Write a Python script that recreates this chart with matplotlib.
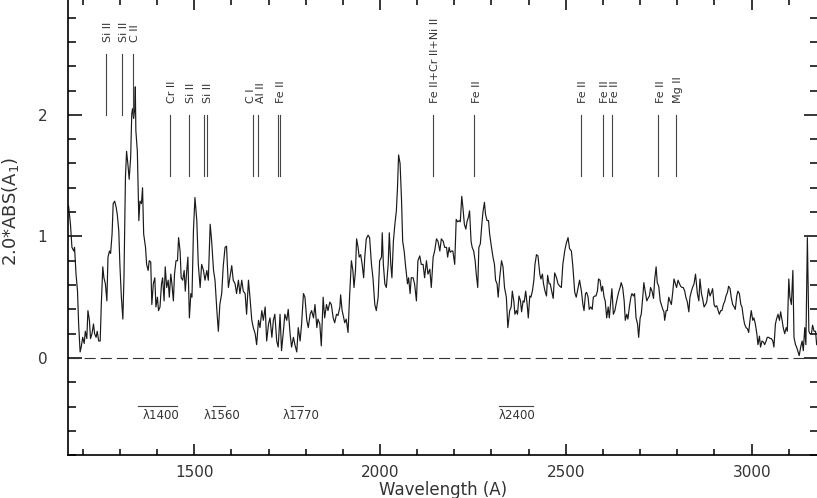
import numpy as np
import matplotlib
matplotlib.use("Agg")
from matplotlib import pyplot as plt
from matplotlib.ticker import MultipleLocator

# ---------- SPECTRUM (in segments) -------------------------------------------
wave_1 = [1162, 1167, 1171, 1176, 1178, 1182, 1186, 1189, 1193, 1196,
          1200, 1204, 1207, 1211, 1214, 1218, 1221, 1225, 1229, 1232,
          1236, 1239, 1243, 1247, 1250, 1254, 1257, 1261, 1265, 1268,
          1272, 1275, 1279, 1282, 1286, 1290, 1293, 1297, 1300, 1304,
          1308, 1311, 1315, 1318, 1322, 1325, 1329, 1332, 1334, 1337,
          1340, 1341.5, 1343, 1347, 1351, 1354, 1358, 1361, 1364, 1369,
          1372, 1376, 1379, 1383, 1386, 1390, 1394, 1397, 1401, 1404,
          1408, 1412, 1415, 1419, 1422, 1426, 1430, 1433, 1437, 1440,
          1444, 1447, 1451, 1455, 1458, 1462, 1465, 1469, 1473, 1476,
          1480, 1483, 1487, 1491, 1494]
flux_1 = [1.25, 1.10, 0.91, 0.88, 0.91, 0.69, 0.55, 0.28, 0.05, 0.09,
          0.17, 0.12, 0.22, 0.16, 0.39, 0.31, 0.16, 0.20, 0.28, 0.20,
          0.17, 0.22, 0.14, 0.14, 0.44, 0.75, 0.66, 0.61, 0.47, 0.83,
          0.88, 0.86, 1.02, 1.27, 1.29, 1.24, 1.18, 1.05, 0.77, 0.50,
          0.32, 0.66, 1.49, 1.70, 1.58, 1.47, 1.65, 2.01, 2.05, 1.97,
          2.05, 2.23, 1.87, 1.70, 1.13, 1.29, 1.27, 1.40, 1.02, 0.91,
          0.77, 0.72, 0.80, 0.79, 0.44, 0.61, 0.66, 0.42, 0.50, 0.39,
          0.42, 0.61, 0.66, 0.47, 0.75, 0.58, 0.64, 0.50, 0.69, 0.61,
          0.47, 0.69, 0.80, 0.80, 0.99, 0.88, 0.66, 0.64, 0.72, 0.55,
          0.72, 0.83, 0.33, 0.53, 0.50]

wave_2 = [1498, 1502, 1507, 1511, 1516, 1520, 1525, 1529, 1534, 1538,
          1543, 1547, 1552, 1556, 1561, 1565, 1569, 1574, 1578, 1583,
          1587, 1592, 1596, 1601, 1605, 1610, 1614, 1619, 1623, 1628,
          1632, 1637, 1641, 1646, 1650, 1655, 1659, 1664, 1668, 1673,
          1677, 1682, 1686, 1691, 1695, 1700, 1704, 1709, 1713, 1717,
          1722, 1726, 1731, 1735, 1740, 1744, 1749, 1753, 1758, 1762,
          1767, 1771, 1776, 1780, 1785, 1789, 1794, 1798, 1803, 1807,
          1812, 1816, 1821, 1825, 1830]
flux_2 = [1.05, 1.32, 1.13, 0.77, 0.58, 0.77, 0.72, 0.64, 0.72, 0.64,
          1.10, 0.96, 0.72, 0.64, 0.39, 0.22, 0.44, 0.53, 0.75, 0.91,
          0.92, 0.58, 0.66, 0.76, 0.64, 0.61, 0.53, 0.64, 0.53, 0.64,
          0.55, 0.53, 0.36, 0.64, 0.50, 0.31, 0.25, 0.20, 0.11, 0.31,
          0.25, 0.39, 0.31, 0.42, 0.14, 0.28, 0.33, 0.17, 0.31, 0.36,
          0.14, 0.09, 0.36, 0.06, 0.22, 0.36, 0.31, 0.40, 0.20, 0.09,
          0.17, 0.11, 0.05, 0.25, 0.14, 0.28, 0.53, 0.50, 0.31, 0.25,
          0.36, 0.39, 0.33, 0.44, 0.25]

wave_3 = [1833, 1838, 1842, 1847, 1851, 1856, 1860, 1865, 1869, 1874,
          1878, 1883, 1887, 1892, 1894, 1898, 1901, 1905, 1909, 1914,
          1918, 1923, 1927, 1930, 1934, 1937, 1941, 1944, 1948, 1952,
          1956, 1959, 1963, 1968, 1972, 1977, 1981, 1986, 1990, 1995,
          1999, 2004, 2006, 2009, 2013, 2017, 2022, 2025, 2029, 2032,
          2036, 2040, 2044, 2047, 2050, 2054, 2058, 2061, 2065, 2069,
          2074, 2077, 2081, 2084, 2089, 2093, 2098, 2102, 2107, 2111,
          2116, 2120, 2125, 2129, 2134, 2138, 2143, 2147, 2152, 2156,
          2161, 2165, 2170, 2174]
flux_3 = [0.32, 0.28, 0.10, 0.50, 0.33, 0.44, 0.39, 0.46, 0.44, 0.33,
          0.29, 0.36, 0.35, 0.42, 0.52, 0.39, 0.35, 0.29, 0.32, 0.21,
          0.50, 0.80, 0.72, 0.58, 0.72, 0.98, 0.91, 0.83, 0.85, 0.77,
          0.66, 0.83, 0.98, 1.01, 0.99, 0.77, 0.66, 0.44, 0.39, 0.50,
          0.80, 0.83, 1.03, 0.77, 0.61, 0.58, 0.77, 1.03, 0.77, 0.66,
          0.96, 1.10, 1.21, 1.40, 1.67, 1.60, 1.29, 0.96, 0.88, 0.75,
          0.61, 0.66, 0.53, 0.66, 0.66, 0.61, 0.47, 0.80, 0.84, 0.77,
          0.77, 0.66, 0.80, 0.69, 0.73, 0.58, 0.83, 0.88, 0.98, 0.96,
          0.88, 0.98, 0.96, 0.91]

wave_4 = [2179, 2182, 2186, 2189, 2193, 2196, 2201, 2205, 2209, 2213,
          2216, 2220, 2223, 2227, 2231, 2234, 2238, 2241, 2245, 2248,
          2252, 2256, 2259, 2263, 2266, 2270, 2274, 2277, 2281, 2284,
          2288, 2292, 2295, 2300, 2304, 2308, 2311, 2315, 2318, 2322,
          2327, 2331, 2335, 2340, 2344, 2349, 2353, 2356, 2360, 2363,
          2367, 2370, 2374, 2378, 2381, 2385, 2388, 2392, 2396, 2399,
          2403, 2406, 2410, 2414, 2417, 2421, 2425, 2430, 2433, 2437,
          2440, 2444, 2448, 2451, 2455, 2458, 2462, 2466, 2470, 2475,
          2479, 2484, 2488, 2492, 2497, 2501, 2506]
flux_4 = [0.91, 0.83, 0.91, 0.87, 0.88, 0.88, 0.77, 1.14, 1.12, 1.13,
          1.12, 1.33, 1.24, 1.10, 1.06, 1.12, 1.16, 1.21, 0.96, 0.91,
          0.88, 0.80, 0.69, 0.58, 0.91, 0.94, 1.10, 1.20, 1.28, 1.18,
          1.13, 1.13, 1.02, 0.91, 0.83, 0.77, 0.64, 0.61, 0.50, 0.66,
          0.80, 0.75, 0.58, 0.50, 0.25, 0.39, 0.42, 0.55, 0.47, 0.36,
          0.39, 0.36, 0.51, 0.47, 0.38, 0.47, 0.46, 0.55, 0.44, 0.33,
          0.51, 0.50, 0.55, 0.64, 0.77, 0.85, 0.84, 0.69, 0.65, 0.69,
          0.61, 0.55, 0.51, 0.68, 0.61, 0.61, 0.55, 0.49, 0.70, 0.66,
          0.61, 0.59, 0.58, 0.77, 0.88, 0.94, 0.99]

wave_5 = [2510, 2515, 2519, 2524, 2528, 2533, 2537, 2542, 2546, 2549,
          2553, 2556, 2560, 2563, 2567, 2571, 2574, 2578, 2581, 2585,
          2588, 2592, 2596, 2599, 2603, 2606, 2610, 2614, 2617, 2621,
          2624, 2628, 2632, 2635, 2639, 2642, 2646, 2649, 2653, 2657,
          2660, 2664, 2667, 2671, 2675, 2678, 2682, 2685, 2689, 2693,
          2696, 2700, 2703, 2707, 2710, 2714, 2718, 2721, 2725, 2728,
          2732, 2736, 2739, 2743, 2746, 2750, 2754, 2757, 2761, 2764,
          2766, 2770, 2773, 2777, 2780, 2784, 2788, 2791, 2795, 2798,
          2802, 2806, 2809, 2813, 2816, 2820, 2823, 2827, 2831, 2834,
          2838, 2841, 2845, 2849]
flux_5 = [0.90, 0.88, 0.75, 0.54, 0.50, 0.58, 0.64, 0.55, 0.44, 0.39,
          0.53, 0.54, 0.50, 0.40, 0.42, 0.40, 0.50, 0.51, 0.51, 0.55,
          0.65, 0.64, 0.55, 0.59, 0.50, 0.47, 0.33, 0.42, 0.33, 0.47,
          0.57, 0.36, 0.39, 0.44, 0.50, 0.54, 0.58, 0.62, 0.58, 0.47,
          0.31, 0.36, 0.32, 0.42, 0.50, 0.53, 0.51, 0.53, 0.33, 0.28,
          0.17, 0.33, 0.36, 0.50, 0.62, 0.54, 0.47, 0.49, 0.51, 0.58,
          0.55, 0.49, 0.64, 0.75, 0.62, 0.59, 0.47, 0.44, 0.40, 0.38,
          0.31, 0.39, 0.39, 0.50, 0.47, 0.44, 0.55, 0.65, 0.61, 0.58,
          0.64, 0.61, 0.59, 0.58, 0.58, 0.55, 0.50, 0.46, 0.38, 0.50,
          0.55, 0.58, 0.61, 0.69]

wave_6 = [2854, 2858, 2861, 2865, 2868, 2872, 2876, 2879, 2884, 2888,
          2892, 2895, 2899, 2902, 2906, 2910, 2913, 2917, 2920, 2924,
          2928, 2931, 2935, 2938, 2942, 2945, 2949, 2953, 2956, 2960,
          2963, 2967, 2971, 2974, 2978, 2981, 2985, 2989, 2992, 2996,
          2999, 3003, 3006, 3010, 3014, 3017, 3021, 3024, 3028, 3032,
          3035, 3039, 3042, 3046, 3050, 3053, 3057, 3060, 3064, 3067,
          3071, 3075, 3078, 3082, 3085, 3089, 3093, 3096, 3100, 3103,
          3107, 3111, 3114, 3118, 3121, 3125, 3128, 3132, 3136, 3139,
          3143, 3146, 3150, 3154, 3157, 3161, 3164, 3168, 3172, 3175]
flux_6 = [0.53, 0.47, 0.65, 0.53, 0.49, 0.42, 0.44, 0.46, 0.57, 0.51,
          0.54, 0.57, 0.44, 0.42, 0.43, 0.39, 0.36, 0.39, 0.39, 0.44,
          0.47, 0.51, 0.54, 0.59, 0.57, 0.50, 0.44, 0.42, 0.40, 0.51,
          0.55, 0.53, 0.44, 0.42, 0.33, 0.28, 0.25, 0.24, 0.21, 0.32,
          0.39, 0.31, 0.33, 0.28, 0.20, 0.11, 0.18, 0.09, 0.14, 0.13,
          0.11, 0.14, 0.17, 0.17, 0.16, 0.16, 0.14, 0.09, 0.28, 0.32,
          0.36, 0.31, 0.38, 0.31, 0.25, 0.20, 0.25, 0.22, 0.65, 0.50,
          0.44, 0.72, 0.17, 0.11, 0.09, 0.05, 0.02, 0.09, 0.14, 0.06,
          0.25, 0.11, 0.99, 0.22, 0.20, 0.20, 0.27, 0.22, 0.22, 0.11]

# ---------- LINE IDENTIFICATIONS -------------------------------------------
upper_lines = [1263, 1306, 1335]
upper_labels = ["Si II", "Si II", "C II"]
upper_label_pos = [1269, 1312, 1341]

lower_lines = [1435, 1486, 1527, 1534, 1657, 1671, 1726, 1731,
               2142, 2254, 2541, 2600, 2625, 2749, 2797]
lower_labels = ["Cr II", "Si II", "Si II", "C I", "Al II", "Fe II",
                "Fe II+Cr II+Ni II", "Fe II", "Fe II", "Fe II", "Fe II",
                "Fe II", "Mg II"]
lower_label_pos = [1441, 1492, 1536, 1652, 1680, 1734,
                   2148, 2260, 2547, 2606, 2631, 2755, 2803]

# continuum windows
band_labels = ["\u03bb1400", "\u03bb1560", "\u03bb1770", "\u03bb2400"]
band_text_x = [1360, 1526, 1739, 2320]
band_lo = [1349, 1551, 1761, 2320]
band_hi = [1454, 1583, 1793, 2412]

wave = np.concatenate([wave_1, wave_2, wave_3, wave_4, wave_5, wave_6])
flux = np.concatenate([flux_1, flux_2, flux_3, flux_4, flux_5, flux_6])

# ---------- PLOT -------------------------------------------------------------
fig = plt.figure(figsize=(8.17, 4.98), dpi=100)
ax = fig.add_axes([68 / 817, 42.7 / 498, 750 / 817, 456 / 498])

ax.plot(wave, flux, color='#1a1a1a', lw=0.85)
ax.axhline(0, color='#333333', lw=0.8, ls=(0, (10, 4.5)))

for w in upper_lines:
    ax.plot([w, w], [2.0, 2.5], color='#444444', lw=0.8)
for x, lab in zip(upper_label_pos, upper_labels):
    ax.text(x, 2.595, lab, rotation=90, ha='center', va='bottom',
            fontsize=8, color='#333333')

for w in lower_lines:
    ax.plot([w, w], [1.5, 2.0], color='#444444', lw=0.8)
for x, lab in zip(lower_label_pos, lower_labels):
    ax.text(x, 2.094, lab, rotation=90, ha='center', va='bottom',
            fontsize=8, color='#333333')

for lab, xt, lo, hi in zip(band_labels, band_text_x, band_lo, band_hi):
    ax.plot([lo, hi], [-0.398, -0.398], color='#444444', lw=0.8)
    ax.text(xt, -0.475, lab, ha='left', va='center', fontsize=8.5,
            color='#333333')

ax.set_xlim(1160.4, 3178.6)
ax.set_ylim(-0.80, 2.95)

ax.xaxis.set_major_locator(MultipleLocator(500))
ax.xaxis.set_minor_locator(MultipleLocator(100))
ax.yaxis.set_major_locator(MultipleLocator(1))
ax.yaxis.set_minor_locator(MultipleLocator(0.2))

ax.tick_params(which='both', direction='in', top=True, right=True,
               width=1.1, labelsize=11, labelcolor='#333333')
ax.tick_params(axis='y', which='major', length=10, pad=15)
ax.tick_params(axis='y', which='minor', length=5.5)
ax.tick_params(axis='x', which='major', length=8, pad=7)
ax.tick_params(axis='x', which='minor', length=4.3)
for s in ax.spines.values():
    s.set_linewidth(1.2)

ax.set_xlabel('Wavelength (A)', fontsize=12, color='#333333')
ax.xaxis.set_label_coords(0.5, -0.056)
ax.set_ylabel('2.0*ABS(A$_1$)', fontsize=13, color='#333333')
ax.yaxis.set_label_coords(-0.063, 0.534)

fig.savefig('out.png', dpi=100)
